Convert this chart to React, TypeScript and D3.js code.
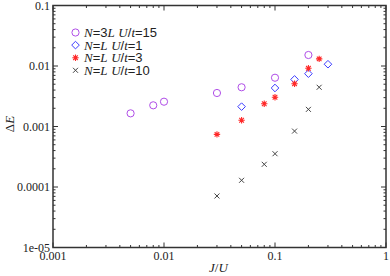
import React from "react";
import * as d3 from "d3";

// N=3L, U/t=15
const xCirc = [0.005, 0.008, 0.01, 0.03, 0.05, 0.1, 0.2];
const yCirc = [0.00165, 0.00224, 0.00257, 0.00358, 0.00445, 0.0064, 0.0152];
// N=L, U/t=1
const xDiam = [0.05, 0.1, 0.15, 0.2, 0.3];
const yDiam = [0.00213, 0.00433, 0.006, 0.00746, 0.0107];
// N=L, U/t=3
const xStar = [0.03, 0.05, 0.08, 0.1, 0.15, 0.2, 0.25];
const yStar = [0.00074, 0.00127, 0.00238, 0.00304, 0.0051, 0.00916, 0.0131];
// N=L, U/t=10
const xCross = [0.03, 0.05, 0.08, 0.1, 0.15, 0.2, 0.25];
const yCross = [0.000071, 0.000129, 0.000237, 0.000355, 0.00084, 0.00192, 0.00445];

const xTicks = [0.001, 0.01, 0.1, 1];
const xTickLabels = ["0.001", "0.01", "0.1", "1"];
const yTicks = [1e-5, 1e-4, 1e-3, 1e-2, 1e-1];
const yTickLabels = ["1e-05", "0.0001", "0.001", "0.01", "0.1"];

const W = 390;
const H = 276;
const left = 53, right = 386, top = 5.5, bottom = 247.5;
const axisCol = "#333";
const serif = "'Liberation Serif', 'DejaVu Serif', serif";
const sans = "'Liberation Sans', Arial, sans-serif";

const cPurple = "#b04ee8";
const cBlue = "#3c3cff";
const cRed = "#ff2a2a";
const cBlack = "#444";

const Marker = ({ kind, x, y }: { kind: string; x: number; y: number }) => {
  if (kind === "circle")
    return <circle cx={x} cy={y} r={3.6} fill="none" stroke={cPurple} strokeWidth={1} />;
  if (kind === "diamond") {
    const s = 3.8;
    return (
      <path d={`M${x},${y - s}L${x + s},${y}L${x},${y + s}L${x - s},${y}Z`}
        fill="none" stroke={cBlue} strokeWidth={1} />
    );
  }
  if (kind === "star") {
    const s = 3.2, d = s * 0.72;
    return (
      <g stroke={cRed} strokeWidth={1.1}>
        <path d={`M${x},${y - s}V${y + s}M${x - s},${y}H${x + s}M${x - d},${y - d}L${x + d},${y + d}M${x - d},${y + d}L${x + d},${y - d}`} />
        <circle cx={x} cy={y} r={1.3} fill={cRed} stroke="none" />
      </g>
    );
  }
  const s = 2.5;
  return (
    <path d={`M${x - s},${y - s}L${x + s},${y + s}M${x - s},${y + s}L${x + s},${y - s}`}
      stroke={cBlack} strokeWidth={1} />
  );
};

const legendRows = [
  { kind: "circle", n: "3", u: "15" },
  { kind: "diamond", n: "", u: "1" },
  { kind: "star", n: "", u: "3" },
  { kind: "cross", n: "", u: "10" },
];

export default function App() {
  const x = d3.scaleLog().domain([0.001, 1]).range([left, right]);
  const y = d3.scaleLog().domain([1e-5, 0.1]).range([bottom, top]);

  const minorX: number[] = [];
  for (let e = -3; e < 0; e++) for (let m = 2; m <= 9; m++) minorX.push(m * Math.pow(10, e));
  const minorY: number[] = [];
  for (let e = -5; e < -1; e++) for (let m = 2; m <= 9; m++) minorY.push(m * Math.pow(10, e));

  const series = [
    { kind: "circle", xs: xCirc, ys: yCirc },
    { kind: "diamond", xs: xDiam, ys: yDiam },
    { kind: "star", xs: xStar, ys: yStar },
    { kind: "cross", xs: xCross, ys: yCross },
  ];

  const major = 5, minor = 2.5;

  return (
    <svg width={W} height={H} style={{ position: "absolute", left: 0, top: 0, background: "#fff" }}>
      <rect x={0} y={0} width={W} height={H} fill="#fff" />
      {/* ticks on all four sides */}
      <g stroke={axisCol} strokeWidth={1}>
        {xTicks.map((t, i) => (
          <g key={"xm" + i}>
            <line x1={x(t)} x2={x(t)} y1={bottom} y2={bottom - major} />
            <line x1={x(t)} x2={x(t)} y1={top} y2={top + major} />
          </g>
        ))}
        {minorX.map((t, i) => (
          <g key={"xn" + i}>
            <line x1={x(t)} x2={x(t)} y1={bottom} y2={bottom - minor} />
            <line x1={x(t)} x2={x(t)} y1={top} y2={top + minor} />
          </g>
        ))}
        {yTicks.map((t, i) => (
          <g key={"ym" + i}>
            <line x1={left} x2={left + major} y1={y(t)} y2={y(t)} />
            <line x1={right} x2={right - major} y1={y(t)} y2={y(t)} />
          </g>
        ))}
        {minorY.map((t, i) => (
          <g key={"yn" + i}>
            <line x1={left} x2={left + minor} y1={y(t)} y2={y(t)} />
            <line x1={right} x2={right - minor} y1={y(t)} y2={y(t)} />
          </g>
        ))}
      </g>
      <rect x={left} y={top} width={right - left} height={bottom - top}
        fill="none" stroke={axisCol} strokeWidth={1.5} />

      {/* tick labels */}
      <g fontFamily={serif} fontSize={12} fill="#222">
        {xTicks.map((t, i) => (
          <text key={"xl" + i} x={x(t)} y={bottom + 12} textAnchor="middle">{xTickLabels[i]}</text>
        ))}
        {yTicks.map((t, i) => (
          <text key={"yl" + i} x={left - 3} y={y(t) + 4} textAnchor="end">{yTickLabels[i]}</text>
        ))}
      </g>

      {/* axis titles */}
      <text x={209} y={272} fontFamily={serif} fontSize={13} fill="#222">
        <tspan fontStyle="italic">J</tspan>/<tspan fontStyle="italic">U</tspan>
      </text>
      <text transform={`translate(14, 124) rotate(-90)`} textAnchor="middle"
        fontFamily={serif} fontSize={13} fill="#222">
        Δ<tspan fontStyle="italic">E</tspan>
      </text>

      {/* data */}
      {series.map((s) =>
        s.xs.map((v, i) => <Marker key={s.kind + i} kind={s.kind} x={x(v)} y={y(s.ys[i])} />)
      )}

      {/* legend */}
      {legendRows.map((r, i) => {
        const ly = 32.5 + i * 12.6;
        return (
          <g key={"lg" + i}>
            <Marker kind={r.kind} x={75.5} y={ly} />
            <text x={84} y={ly + 4.5} fontSize={13} fill="#222" fontFamily={sans}>
              <tspan fontFamily={serif} fontStyle="italic">N</tspan>=
              {r.n}<tspan fontFamily={serif} fontStyle="italic">L</tspan>{" "}
              <tspan fontFamily={serif} fontStyle="italic">U</tspan>/<tspan fontFamily={serif} fontStyle="italic">t</tspan>={r.u}
            </text>
          </g>
        );
      })}
    </svg>
  );
}
